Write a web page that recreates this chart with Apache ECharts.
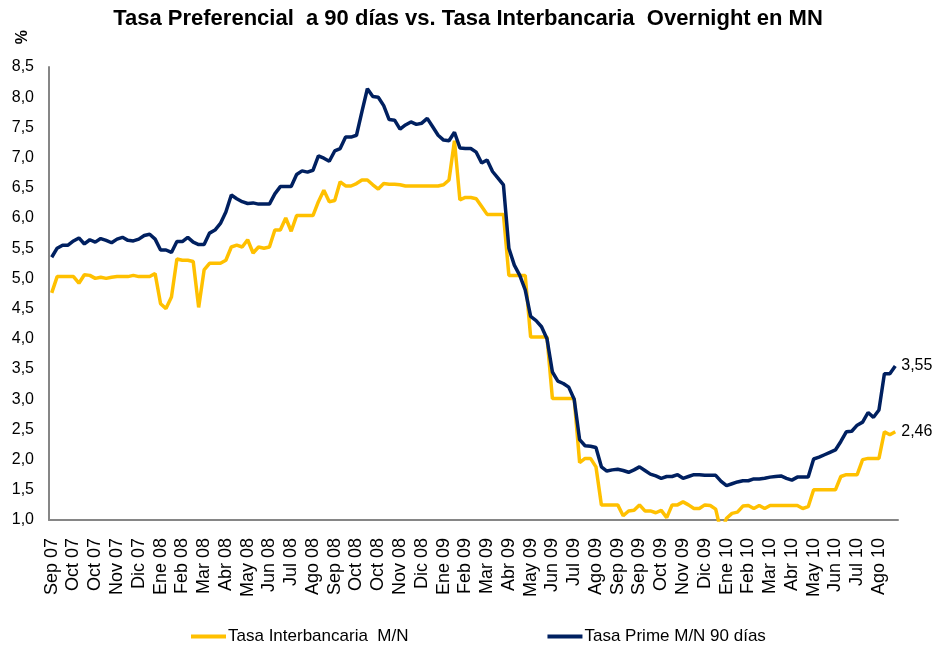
<!DOCTYPE html>
<html>
<head>
<meta charset="utf-8">
<script src="https://cdn.jsdelivr.net/npm/echarts@6/dist/echarts.min.js"></script>
<style>
  html, body { margin: 0; padding: 0; background: #fff; }
  #chart { width: 936px; height: 647px; }
</style>
</head>
<body>
<div id="chart"></div>
<script>
// Tick labels shown every 4 weekly observations
const tickLabels = ['Sep 07','Oct 07','Oct 07','Nov 07','Dic 07','Ene 08','Feb 08','Mar 08','Abr 08','May 08','Jun 08','Jul 08','Ago 08',
  'Sep 08','Oct 08','Oct 08','Nov 08','Dic 08','Ene 09','Feb 09','Mar 09','Abr 09','May 09','Jun 09','Jul 09','Ago 09',
  'Sep 09','Sep 09','Oct 09','Nov 09','Dic 09','Ene 10','Feb 10','Mar 10','Abr 10','May 10','Jun 10','Jul 10','Ago 10'];

const yTicks = [1.0,1.5,2.0,2.5,3.0,3.5,4.0,4.5,5.0,5.5,6.0,6.5,7.0,7.5,8.0,8.5];

// Tasa Interbancaria M/N (weekly)
const interbancaria = [
  4.76,5.03,5.03,5.03,5.03,4.92,5.06,5.05,5.00,5.02,5.00,5.02,5.03,5.03,5.03,5.05,5.03,5.03,5.03,5.08,
  4.58,4.50,4.69,5.32,5.30,5.30,5.28,4.52,5.14,5.25,5.25,5.25,5.30,5.52,5.55,5.52,5.64,5.42,5.52,5.50,
  5.52,5.80,5.80,6.00,5.78,6.04,6.04,6.04,6.04,6.27,6.46,6.27,6.29,6.60,6.53,6.53,6.57,6.63,6.63,6.55,
  6.48,6.57,6.56,6.56,6.55,6.53,6.53,6.53,6.53,6.53,6.53,6.53,6.55,6.63,7.28,6.30,6.34,6.34,6.32,6.19,
  6.06,6.06,6.06,6.06,5.05,5.05,5.05,5.05,4.03,4.03,4.03,4.03,3.01,3.01,3.01,3.01,3.01,1.95,2.02,2.02,
  1.88,1.25,1.25,1.25,1.25,1.07,1.15,1.16,1.25,1.15,1.15,1.12,1.16,1.04,1.25,1.25,1.30,1.25,1.19,1.19,
  1.25,1.24,1.18,0.80,1.03,1.11,1.13,1.23,1.24,1.19,1.24,1.19,1.24,1.24,1.24,1.24,1.24,1.24,1.19,1.22,
  1.50,1.50,1.50,1.50,1.50,1.72,1.75,1.75,1.75,2.00,2.02,2.02,2.02,2.46,2.41,2.46
];

// Tasa Prime M/N 90 días (weekly)
const prime90 = [
  5.35,5.50,5.55,5.55,5.62,5.67,5.57,5.64,5.60,5.66,5.63,5.59,5.65,5.68,5.63,5.62,5.65,5.71,5.73,5.65,
  5.47,5.47,5.43,5.61,5.61,5.68,5.60,5.56,5.56,5.75,5.80,5.91,6.10,6.38,6.32,6.27,6.24,6.25,6.23,6.23,
  6.23,6.40,6.52,6.52,6.52,6.72,6.78,6.76,6.79,7.03,6.99,6.94,7.11,7.15,7.34,7.34,7.37,7.76,8.14,8.01,
  8.00,7.86,7.63,7.62,7.47,7.54,7.59,7.55,7.57,7.65,7.51,7.37,7.29,7.28,7.42,7.16,7.15,7.15,7.09,6.91,
  6.96,6.77,6.66,6.55,5.50,5.22,5.05,4.81,4.37,4.30,4.20,4.00,3.45,3.30,3.26,3.20,3.00,2.33,2.23,2.22,
  2.20,1.88,1.81,1.83,1.84,1.82,1.79,1.83,1.88,1.82,1.76,1.73,1.69,1.72,1.72,1.75,1.69,1.72,1.75,1.75,
  1.74,1.74,1.74,1.64,1.57,1.60,1.63,1.65,1.65,1.68,1.68,1.69,1.71,1.72,1.73,1.69,1.66,1.71,1.71,1.71,
  2.01,2.04,2.08,2.12,2.16,2.30,2.46,2.47,2.57,2.62,2.78,2.70,2.82,3.42,3.42,3.55
];

const seriesNames = ['Tasa Interbancaria  M/N', 'Tasa Prime M/N 90 días'];
const titleText = 'Tasa Preferencial  a 90 días vs. Tasa Interbancaria  Overnight en MN';

const categories = prime90.map((_, i) => (i % 4 === 0 ? tickLabels[i / 4] : ''));
const fmt = v => v.toFixed(1).replace('.', ',');
const fmt2 = v => v.toFixed(2).replace('.', ',');

const chart = echarts.init(document.getElementById('chart'), null, { renderer: 'canvas' });
const FONT = '"Liberation Sans", Arial, sans-serif';

chart.setOption({
  backgroundColor: '#ffffff',
  animation: false,
  title: {
    text: titleText,
    left: 'center',
    top: 3,
    textStyle: { fontFamily: FONT, fontWeight: 'bold', fontSize: 22, color: '#000' }
  },
  graphic: [{
    type: 'text',
    left: 15,
    top: 30,
    rotation: Math.PI / 2,
    style: { text: '%', fontFamily: FONT, fontWeight: 'bold', fontSize: 16, fill: '#000' }
  }],
  legend: {
    left: 186,
    top: 623,
    itemGap: 139,
    itemWidth: 35,
    itemHeight: 4,
    icon: 'rect',
    textStyle: { fontFamily: FONT, fontSize: 17, color: '#000', padding: [0, 0, 0, -3] },
    data: seriesNames
  },
  grid: { left: 49, right: 38, top: 67, bottom: 127, containLabel: false },
  xAxis: {
    type: 'category',
    data: categories,
    boundaryGap: true,
    axisLine: { lineStyle: { color: '#868686', width: 2 } },
    axisTick: { show: false },
    axisLabel: {
      interval: 3,
      rotate: 90,
      margin: 18,
      fontFamily: FONT,
      fontSize: 18,
      color: '#000'
    },
    splitLine: { show: false }
  },
  yAxis: {
    type: 'value',
    min: yTicks[0],
    max: yTicks[yTicks.length - 1],
    interval: 0.5,
    axisLine: { show: true, lineStyle: { color: '#868686', width: 2 } },
    axisTick: { show: false },
    axisLabel: {
      formatter: v => fmt(v),
      margin: 15,
      fontFamily: FONT,
      fontSize: 16,
      color: '#000'
    },
    splitLine: { show: false }
  },
  series: [
    {
      name: seriesNames[0],
      type: 'line',
      data: interbancaria,
      showSymbol: false,
      symbol: 'none',
      clip: true,
      lineStyle: { color: '#FFC000', width: 3.5 },
      itemStyle: { color: '#FFC000' },
      endLabel: { show: true, formatter: p => fmt2(p.value), fontFamily: FONT, fontSize: 16, color: '#000', distance: 6 }
    },
    {
      name: seriesNames[1],
      type: 'line',
      data: prime90,
      showSymbol: false,
      symbol: 'none',
      clip: true,
      lineStyle: { color: '#002060', width: 3.5 },
      itemStyle: { color: '#002060' },
      endLabel: { show: true, formatter: p => fmt2(p.value), fontFamily: FONT, fontSize: 16, color: '#000', distance: 6 }
    }
  ]
});
</script>
</body>
</html>
